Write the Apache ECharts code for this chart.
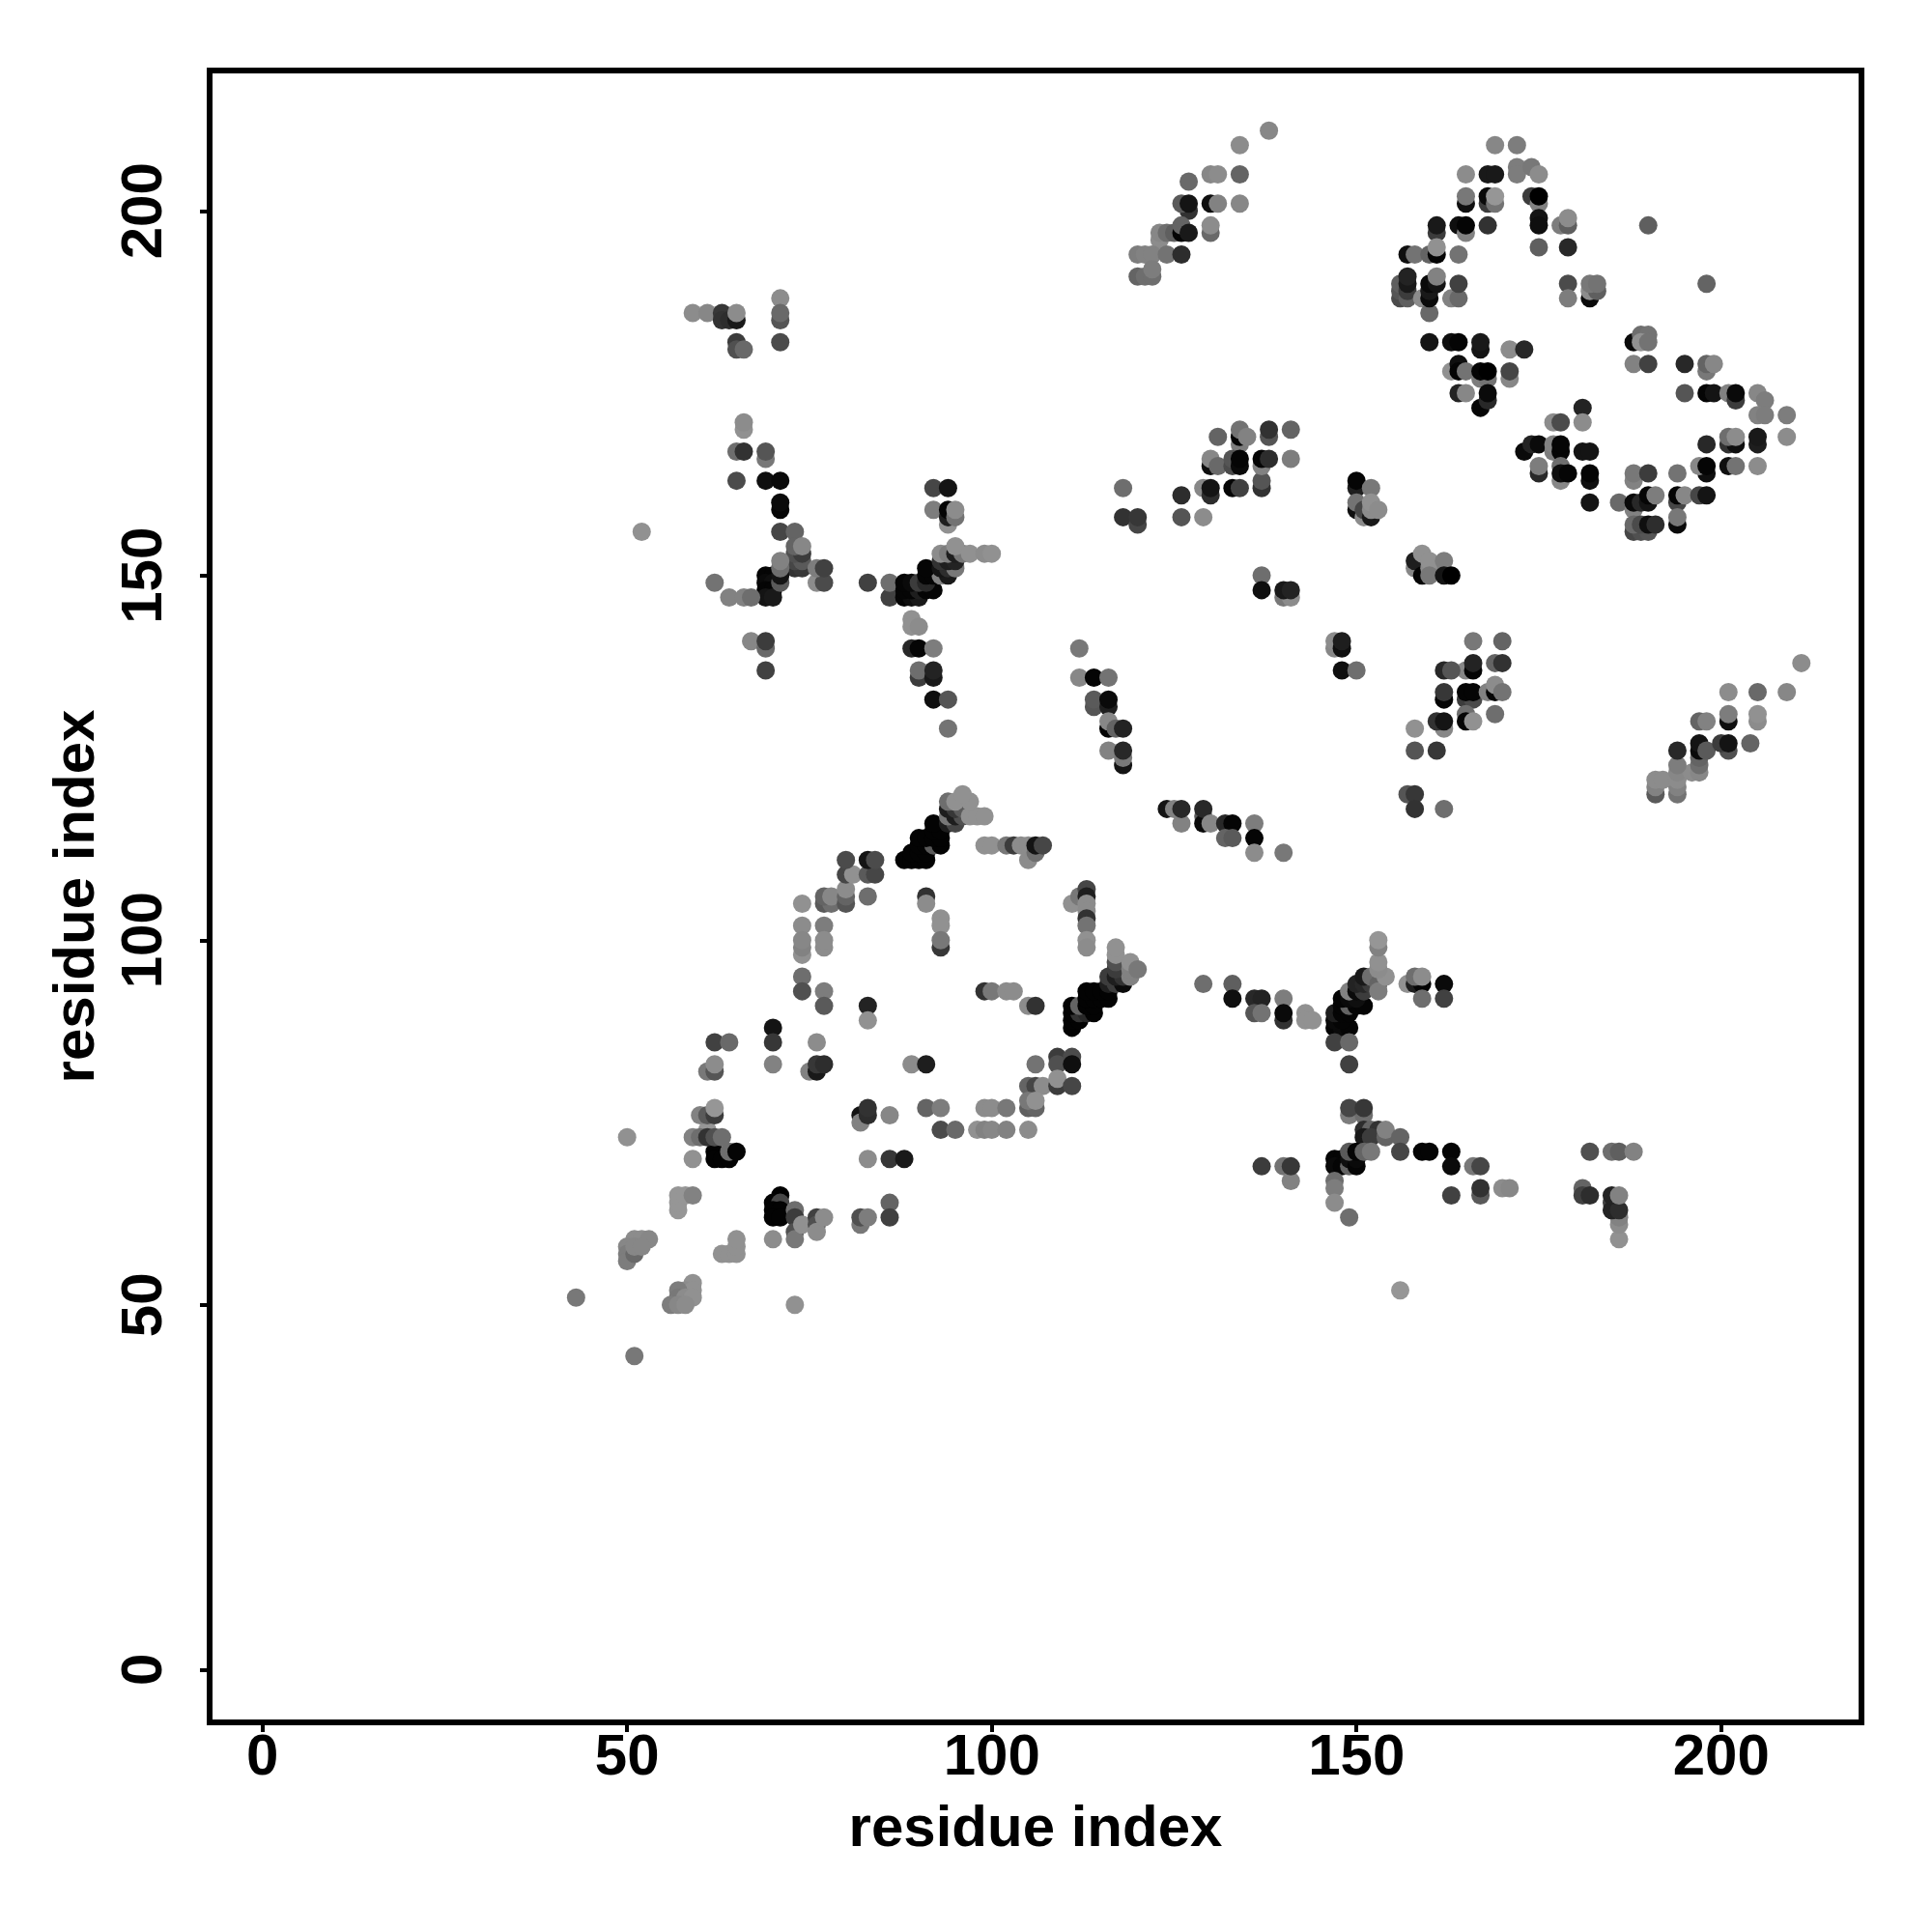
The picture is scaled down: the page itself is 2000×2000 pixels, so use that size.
<!DOCTYPE html>
<html><head><meta charset="utf-8">
<style>html,body{margin:0;background:#fff}#c{width:2000px;height:2000px}</style>
<script src="https://cdn.jsdelivr.net/npm/echarts@6/dist/echarts.min.js"></script>
</head><body><div id="c"></div>
<script>
// each contact: [residue i, residue j, shade value (0 strongest .. 155 weakest)]
const tailLow=[[43,51,120],[51,43,120],[73,50,145],[50,73,145],
[59,53,145],[58,52,140],[59,52,145],[57,52,125],[57,51,120],[58,51,140],[59,51,145],[56,50,125],[57,50,135],[58,50,140],
[51,59,140],[52,59,140],[53,59,135],[50,58,135],[50,57,125],[50,56,125],[51,57,105],[51,58,135],[52,58,135],
[57,63,150],[57,64,150],[57,65,150],[58,65,150],[59,65,130],
[63,57,145],[64,57,145],[65,57,145],[65,58,145],[65,59,145],[70,59,140]];
const blockB=[[62,71,3],[62,70,3],[63,70,3],[64,70,3],[64,71,110],[65,71,5],[59,70,145],
[61,74,150],[59,73,130],[60,73,110],[61,73,50],[62,73,80],[63,73,110],
[60,76,130],[61,76,90],[62,76,60],[62,77,150],
[61,82,120],[62,82,85],[62,83,140],[62,86,65],[64,86,105],
[70,88,20],[70,86,55],[70,83,130],
[76,86,140],[75,82,130],[76,82,25],[76,83,55],[77,83,45],
[71,65,0],[70,64,3],[71,64,70],[70,63,3],[71,63,3],[70,62,3],[71,62,3],
[73,63,110],[73,62,60],[73,60,80],[73,59,120],[74,61,145],[76,62,65],[76,61,80],[76,60,140],[77,62,140],
[82,61,120],[82,62,80],[83,62,125],[86,64,100],[86,62,65],
[74,95,110],[74,93,80],[77,93,125],[77,91,90],[83,91,35],[83,89,145],
[83,70,140],[86,70,55],[88,70,25],[89,83,140],[91,83,30],
[82,76,20],[82,75,130],[83,76,45],[83,77,50],[86,76,135],
[91,77,100],[93,77,125],[93,74,75],[95,74,105]];
const ringC=[[74,105,145],[74,102,140],[74,98,145],[74,99,130],[74,100,135],[77,102,125],[77,99,140],[77,100,140],
[77,105,90],[78,105,110],[77,106,100],[78,106,135],[80,105,85],[80,106,100],[80,107,140],[83,106,110],
[80,109,70],[81,109,145],[83,109,90],[84,109,70],[80,111,75],[83,111,20],[84,111,75],
[91,106,50],[91,105,140],[93,103,145],[93,102,145],[93,99,55],[93,100,120],
[99,93,50],[100,93,120],[102,93,140],[103,93,140],[105,91,140],[106,91,50],
[99,113,145],[100,113,145],[102,113,120],[103,113,60],[104,113,140],[105,111,140],[105,113,140],[106,112,110],[106,113,20],[107,113,70]];
const diagD=[[88,111,3],[89,111,3],[90,111,3],[91,111,3],[89,112,3],[90,112,3],[91,112,3],[90,113,3],[91,113,3],[92,113,90],[93,113,3],
[90,114,3],[91,114,3],[92,114,3],[93,114,3],[92,115,3],[93,115,3],[92,116,3],
[94,116,30],[95,116,70],[94,117,120],[95,117,30],[96,117,80],[94,118,30],[95,118,55],[96,118,90],[94,119,110],[95,119,145],[97,117,145],[98,117,145],[99,117,145],[97,119,145],[96,120,145]];
const diagE=[[111,88,3],[111,89,3],[112,89,3],[111,90,3],[112,90,50],[113,90,40],[114,90,3],[111,91,3],[112,91,100],[113,91,3],[114,91,3],
[113,92,3],[114,92,3],[115,92,3],[116,92,3],[113,93,3],[114,93,3],[115,93,3],[116,93,3],
[116,94,30],[117,94,60],[118,94,10],[116,95,60],[117,95,30],[118,95,50],[117,96,60],[117,97,80],[117,98,145],[117,99,145],[119,95,130],[119,96,130],[119,97,145],[120,96,120]];
const stemF=[[111,105,145],[112,106,120],[113,107,70],[113,106,30],[113,105,140],[113,104,140],[113,103,50],[113,102,115],[113,100,145],[113,99,140],
[106,83,115],[109,84,60],[109,83,80],[111,84,75],[111,83,15],
[105,80,100],[106,80,70],[107,80,140],[109,80,60],[109,81,145],[111,80,70],
[105,77,95],[106,77,100],[105,78,120],[106,78,145],[99,77,140],[100,77,140],[102,77,120],
[98,74,145],[99,74,130],[100,74,135],[102,74,130],[105,74,140]];
const bridgeG=[[129,94,110],[133,94,95],[133,92,15],[136,92,40],[137,92,35],[136,90,85],[137,90,115],[140,92,125],[140,89,50],[140,90,10],[143,90,145],[143,89,145],[144,89,145],
[124,118,20],[125,118,130],[126,116,130],[126,118,40],[129,117,90],[129,116,10],[129,118,40],[130,116,135],[132,116,40],[133,116,5],[132,114,100],[133,114,90],[136,116,125],[136,114,5],[136,112,140],[140,112,120]];
const crossH=[[147,88,5],[148,88,10],[149,88,5],[147,89,10],[148,89,5],[147,90,30],[148,90,5],[149,90,5],[148,91,5],[149,91,100],[150,91,5],[151,91,5],
[148,92,5],[149,92,10],[150,92,15],[149,93,130],[150,93,10],[151,93,60],[150,94,35],[151,94,40],[152,94,60],[151,95,25],[152,95,110],[153,94,100],[153,93,125],[154,95,145],
[153,96,140],[153,97,145],[153,99,130],[153,100,150],[147,86,65],[149,86,105],[149,83,65],
[157,94,145],[158,94,30],[159,94,5],[158,95,110],[159,95,140],[159,92,110],[162,94,10],[162,92,65]];
const crossI=[[149,76,125],[151,76,110],[149,77,70],[151,77,55],
[151,74,45],[152,74,100],[153,74,50],[151,73,25],[152,73,60],[154,73,100],[154,74,130],[156,73,100],[156,71,70],
[147,70,5],[148,70,5],[147,69,10],[148,69,5],[149,69,100],[149,70,15],[150,69,5],[150,70,10],[149,71,90],[150,71,5],[151,71,100],[152,71,120],
[147,67,110],[147,66,125],[147,64,140],[149,62,110],
[159,71,5],[160,71,5],[163,71,5],[163,69,10],[166,69,120],[167,69,70],
[163,65,65],[167,65,90],[167,66,50],[170,66,140],[171,66,135],
[137,69,60],[140,69,115],[141,67,130],[141,69,55],[156,52,150],
[182,71,80],[185,71,110],[186,71,95],[188,71,130],
[181,66,100],[181,65,65],[182,65,45],[186,59,145],[186,61,140],[186,62,130],[185,64,65],[185,63,35],[186,63,45],[185,65,35],[186,65,130]];
const upperJ=[[59,186,140],[61,186,135],[63,186,55],[63,185,50],[64,185,45],[65,185,25],[65,186,140],
[65,182,60],[65,181,80],[66,181,105],[71,188,140],[71,185,85],[71,186,105],[71,182,75],
[66,170,145],[66,171,140],[65,167,110],[66,167,50],[69,166,120],[69,167,85],
[65,163,75],[69,163,15],[71,163,10],[71,159,5],[71,160,10],[71,156,70],[73,156,100],[52,156,145],
[73,151,50],[74,151,55],[73,152,70],[74,152,90],[73,153,80],[74,153,60],[73,154,100],[74,154,135],
[69,150,5],[70,150,5],[69,149,10],[70,149,15],[69,148,5],[70,148,5],[69,147,20],[70,147,25],
[71,149,90],[71,150,20],[71,151,110],[71,152,130],
[76,149,140],[77,149,75],[76,151,125],[77,151,65],[62,149,115],[64,147,130],[66,147,130],[67,147,110],
[67,141,135],[69,140,105],[69,141,60],[69,137,65]];
const upperK=[[92,162,70],[94,162,20],[92,159,125],[94,157,145],[94,158,30],[94,159,5],[95,158,115],[95,159,140],
[83,149,65],[86,147,65],[86,149,110],[88,147,5],[89,147,15],[90,147,25],[88,148,5],[89,148,5],[90,148,30],[91,148,5],[92,148,5],
[88,149,5],[89,149,10],[90,149,60],[91,149,40],[91,150,5],[92,150,5],[93,150,130],[94,150,25],
[91,151,5],[93,151,20],[94,151,45],[95,151,120],[93,152,50],[94,152,30],[95,152,35],
[93,153,140],[94,153,125],[95,153,30],[96,153,120],[95,154,145],[97,153,145],[99,153,140],[100,153,145],
[89,144,145],[89,143,145],[90,143,140],[89,140,40],[90,140,5],[92,140,125],
[90,136,60],[90,137,110],[92,136,25],[92,137,35],[92,133,15],[94,133,85],[94,129,115]];
const stemL=[[112,140,120],[112,136,135],[114,136,5],[116,136,115],[114,132,85],[114,133,90],[116,132,30],[116,133,10],
[116,129,5],[116,130,135],[117,129,100],[118,129,35],[116,126,130],[118,124,20],[118,125,120],[118,126,40],
[137,150,110],[137,148,15],[140,147,120],[141,147,140],[140,148,25],[141,148,35],
[147,140,135],[147,141,140],[148,140,15],[148,141,30],[148,137,15],[150,137,110]];
const midM=[[166,141,120],[170,141,100],[169,138,100],[170,138,50],[165,137,135],[166,137,5],[166,138,35],[162,137,40],[163,137,85],
[162,133,5],[162,134,55],[165,133,60],[166,133,75],[165,134,5],[166,134,5],[168,134,130],[169,134,5],[169,135,140],[170,134,115],
[169,131,110],[165,131,110],[165,130,5],[166,130,145],[162,129,135],[161,130,50],[162,130,20],
[158,129,145],[158,126,85],[161,126,55],[157,120,85],[158,120,55],[158,118,50],[162,118,110],
[158,151,135],[158,152,30],[159,150,5],[159,153,145],[160,151,140],[160,152,145],[160,150,120],[162,152,125],[162,150,20],[163,150,0]];
const diagN=[[191,120,90],[194,120,115],[191,121,130],[194,121,130],[191,122,140],[192,122,140],[194,122,140],[194,123,135],[196,123,140],[197,123,135],
[197,124,110],[194,124,125],[197,125,100],[194,126,40],[197,126,10],[197,127,20],[198,126,90],
[201,126,80],[200,127,60],[201,127,20],[204,127,100],[197,130,100],[198,130,130],[201,130,15],[201,131,125],[205,130,140],[205,131,145],
[201,134,140],[205,134,105],[209,134,135],[211,138,140]];
const bandO=[[138,211,135],[134,209,140],[130,205,135],[131,205,140],[134,205,100],[127,204,105],
[127,200,50],[126,201,90],[127,201,20],[130,201,15],[131,201,130],[134,201,135],[130,197,105],[130,198,140],
[123,196,140],[123,197,135],[124,197,110],[125,197,95],[126,197,5],[126,198,100],[127,197,25],
[120,194,125],[121,194,130],[122,194,130],[124,194,115],[126,194,45],
[120,191,100],[121,191,110],[122,191,110],[122,192,125]];
const patchP=[[118,162,110],[118,158,50],[120,157,70],[120,158,55],[126,161,45],[126,158,85],[129,158,140],
[129,162,135],[130,161,45],[130,162,20],[133,162,5],[134,162,65],[137,162,50],[137,163,85],
[131,169,100],[134,168,125],[134,169,5],[134,170,115],[135,169,130],[138,169,85],[138,170,50],[141,170,100],
[130,165,15],[130,166,135],[131,165,105],[133,165,75],[133,166,85],[134,165,10],[134,166,5],[137,165,130],[137,166,5],[138,166,45],[141,166,125],
[150,162,30],[150,163,5],[152,162,120],[150,159,15],[150,160,115],[151,158,140],[151,159,70],[152,158,25],[152,159,140],[152,160,145],[153,159,140]];
const loopQ=[[169,209,135],[172,209,125],[165,205,140],[168,205,25],[169,205,25],[172,206,125],[172,205,125],[174,206,120],[175,205,140],
[165,201,15],[165,202,120],[168,201,60],[168,202,10],[169,201,115],[169,202,150],[174,202,60],[175,201,130],[175,202,0],
[175,199,20],[175,198,15],[175,195,95],[178,198,125],[179,198,95],[179,199,140],[179,195,40],[190,198,95],
[161,197,60],[161,198,25],[164,198,15],[165,197,130],[165,198,5],[168,198,50],
[157,194,15],[158,194,115],[160,194,100],[161,194,5],[161,195,145],[164,194,115],
[156,188,75],[156,189,85],[156,190,95],[157,188,95],[157,189,60],[157,190,25],[157,191,35],
[159,188,140],[160,186,105],[160,188,10],[160,189,25],[160,190,10],[161,190,20],[161,191,130],
[163,188,130],[164,188,105],[164,190,65],[179,190,75],[179,188,125],
[182,188,10],[182,189,140],[183,189,95],[182,190,120],[183,190,115],[198,190,100]];
const loopR=[[160,182,20],[163,182,15],[164,182,5],[167,181,20],[167,182,25],[171,181,140],[173,181,40],
[163,178,145],[164,179,15],[164,178,5],[165,178,115],[167,177,125],[168,177,115],[167,178,5],[168,178,0],[171,177,135],[171,178,70],
[164,175,35],[165,175,135],[167,173,5],[168,174,40],[168,175,10],
[181,173,35],[181,171,140],[177,171,140],[178,171,75],
[173,167,10],[174,168,35],[175,168,10],[177,167,125],[177,168,130],[178,167,5],[178,168,5],[181,167,20],[182,167,20],
[175,164,40],[175,165,125],[178,163,135],[178,165,110],[178,164,15],[179,164,5],[182,163,15],[182,164,5],[182,160,20],[186,160,105],
[188,163,130],[188,164,120],[190,164,60],[194,164,115],
[188,159,130],[188,160,10],[189,160,40],[190,160,20],[190,161,5],[191,161,125],
[194,160,70],[194,161,5],[195,161,135],[197,161,70],[198,161,20],
[188,156,70],[189,156,80],[190,156,85],[188,157,105],[189,157,75],[190,157,15],[191,157,45],[194,157,10],[194,158,120]];
const loopS=[[188,182,10],[189,183,110],[190,183,115],[189,182,145],[190,182,115],[188,179,130],[190,179,65],
[195,179,40],[198,178,120],[198,179,100],[199,179,135],
[195,175,85],[198,175,5],[199,175,20],[201,175,130],[202,174,60],[202,175,10],
[205,175,135],[206,174,125],[205,172,130],[206,172,125],[209,172,125],[209,169,140],
[201,168,50],[202,168,15],[201,169,110],[202,169,140],[205,168,30],[205,169,25],[198,168,40],
[198,164,15],[197,165,135],[198,165,5],[201,165,15],[202,165,115],[205,165,140]];
const contacts=[].concat(tailLow,blockB,ringC,diagD,diagE,stemF,bridgeG,crossH,crossI,upperJ,upperK,stemL,midM,diagN,bandO,patchP,loopQ,loopR,loopS);
const tickValues=[0,50,100,150,200];
const axisTitle='residue index';

const font='"Liberation Sans"';
const axisCommon=(extra)=>Object.assign({
  type:'value',min:-7.24,max:219.24,name:axisTitle,nameLocation:'middle',
  nameTextStyle:{fontFamily:font,fontWeight:'bold',fontSize:60,color:'#000'},
  splitLine:{show:false},axisLine:{show:false,onZero:false},
  axisTick:{show:true,length:10,inside:false,customValues:tickValues,lineStyle:{color:'#000',width:4}},
},extra);
const chart=echarts.init(document.getElementById('c'),null,{renderer:'canvas'});
chart.setOption({
  animation:false,backgroundColor:'#fff',
  grid:{left:217,top:73,width:1710,height:1710,show:true,borderColor:'#000',borderWidth:6,backgroundColor:'transparent'},
  xAxis:axisCommon({nameGap:81,axisLabel:{customValues:tickValues,margin:7,fontFamily:font,fontWeight:'bold',fontSize:60,color:'#000'}}),
  yAxis:axisCommon({nameGap:107,axisLabel:{customValues:tickValues,rotate:90,margin:67,fontFamily:font,fontWeight:'bold',fontSize:60,color:'#000',align:'center',verticalAlign:'middle'}}),
  visualMap:{show:false,type:'continuous',dimension:2,seriesIndex:0,min:0,max:155,inRange:{color:['#000000','#9b9b9b']}},
  series:[{type:'scatter',data:contacts,symbol:'circle',symbolSize:19,silent:true,progressive:0,large:false,itemStyle:{opacity:1,borderWidth:0},emphasis:{disabled:true}}]
});
</script></body></html>
